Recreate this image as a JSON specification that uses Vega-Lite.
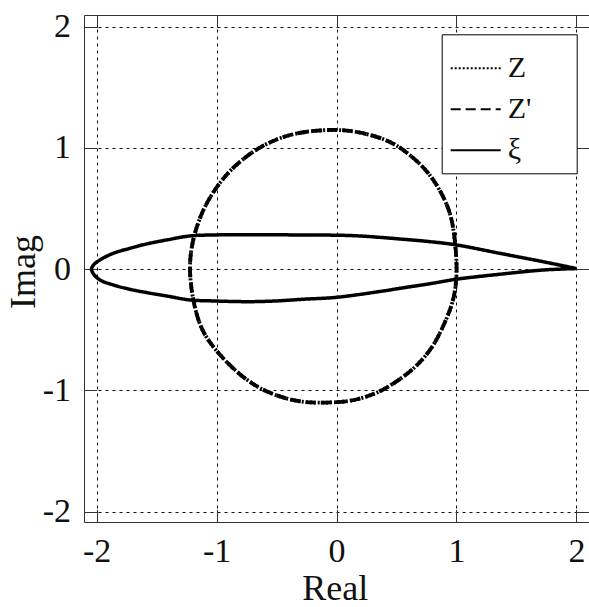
{
  "$schema": "https://vega.github.io/schema/vega-lite/v6.json",
  "width": 505,
  "height": 507,
  "autosize": {"type": "none"},
  "padding": {"left": 84, "top": 15, "right": 0, "bottom": 85},
  "background": "white",
  "config": {
    "view": {"stroke": null},
    "font": "Liberation Serif",
    "axis": {
      "domainColor": "#333",
      "domainWidth": 1,
      "tickColor": "#333",
      "tickWidth": 1,
      "tickSize": -12.6,
      "labelFont": "Liberation Serif",
      "labelFontSize": 34,
      "labelColor": "#111",
      "titleFont": "Liberation Serif",
      "titleFontSize": 36,
      "titleFontWeight": "normal",
      "titleColor": "#111",
      "labelFlush": false,
      "labelOverlap": false,
      "gridColor": "#111",
      "gridDash": [3, 4],
      "gridWidth": 1,
      "gridOpacity": 1
    }
  },
  "datasets": {
    "circle": [
      {"i": 0, "x": 1.005, "y": 0.02},
      {"i": 1, "x": 0.99, "y": 0.22},
      {"i": 2, "x": 0.965, "y": 0.406},
      {"i": 3, "x": 0.91, "y": 0.57},
      {"i": 4, "x": 0.78, "y": 0.79},
      {"i": 5, "x": 0.62, "y": 0.94},
      {"i": 6, "x": 0.444, "y": 1.065},
      {"i": 7, "x": 0.167, "y": 1.14},
      {"i": 8, "x": -0.055, "y": 1.155},
      {"i": 9, "x": -0.36, "y": 1.125},
      {"i": 10, "x": -0.583, "y": 1.04},
      {"i": 11, "x": -0.75, "y": 0.935},
      {"i": 12, "x": -0.917, "y": 0.791},
      {"i": 13, "x": -1.056, "y": 0.598},
      {"i": 14, "x": -1.139, "y": 0.433},
      {"i": 15, "x": -1.2, "y": 0.241},
      {"i": 16, "x": -1.232, "y": 0.02},
      {"i": 17, "x": -1.2, "y": -0.254},
      {"i": 18, "x": -1.139, "y": -0.474},
      {"i": 19, "x": -1.056, "y": -0.611},
      {"i": 20, "x": -0.917, "y": -0.77},
      {"i": 21, "x": -0.75, "y": -0.918},
      {"i": 22, "x": -0.583, "y": -1.015},
      {"i": 23, "x": -0.389, "y": -1.078},
      {"i": 24, "x": -0.222, "y": -1.105},
      {"i": 25, "x": 0.028, "y": -1.098},
      {"i": 26, "x": 0.167, "y": -1.078},
      {"i": 27, "x": 0.334, "y": -1.027},
      {"i": 28, "x": 0.5, "y": -0.93},
      {"i": 29, "x": 0.667, "y": -0.806},
      {"i": 30, "x": 0.806, "y": -0.641},
      {"i": 31, "x": 0.889, "y": -0.474},
      {"i": 32, "x": 0.96, "y": -0.309},
      {"i": 33, "x": 0.995, "y": -0.16}
    ],
    "airfoil": [
      {"i": 0, "x": 2.0, "y": 0.005},
      {"i": 1, "x": 1.72, "y": 0.062},
      {"i": 2, "x": 1.36, "y": 0.131},
      {"i": 3, "x": 1.0, "y": 0.2},
      {"i": 4, "x": 0.778, "y": 0.227},
      {"i": 5, "x": 0.528, "y": 0.249},
      {"i": 6, "x": 0.19, "y": 0.274},
      {"i": 7, "x": 0.0, "y": 0.28},
      {"i": 8, "x": -0.5, "y": 0.283},
      {"i": 9, "x": -1.028, "y": 0.282},
      {"i": 10, "x": -1.222, "y": 0.274},
      {"i": 11, "x": -1.416, "y": 0.241},
      {"i": 12, "x": -1.583, "y": 0.208},
      {"i": 13, "x": -1.722, "y": 0.172},
      {"i": 14, "x": -1.861, "y": 0.131},
      {"i": 15, "x": -1.972, "y": 0.076},
      {"i": 16, "x": -2.025, "y": 0.035},
      {"i": 17, "x": -2.042, "y": 0.0},
      {"i": 18, "x": -2.025, "y": -0.04},
      {"i": 19, "x": -1.972, "y": -0.089},
      {"i": 20, "x": -1.861, "y": -0.13},
      {"i": 21, "x": -1.722, "y": -0.166},
      {"i": 22, "x": -1.583, "y": -0.193},
      {"i": 23, "x": -1.416, "y": -0.221},
      {"i": 24, "x": -1.222, "y": -0.254},
      {"i": 25, "x": -1.028, "y": -0.262},
      {"i": 26, "x": -0.722, "y": -0.268},
      {"i": 27, "x": -0.5, "y": -0.262},
      {"i": 28, "x": -0.278, "y": -0.248},
      {"i": 29, "x": 0.0, "y": -0.232},
      {"i": 30, "x": 0.389, "y": -0.18},
      {"i": 31, "x": 0.528, "y": -0.158},
      {"i": 32, "x": 0.778, "y": -0.12},
      {"i": 33, "x": 1.0, "y": -0.083},
      {"i": 34, "x": 1.36, "y": -0.042},
      {"i": 35, "x": 1.72, "y": -0.007},
      {"i": 36, "x": 2.0, "y": 0.005}
    ]
  },
  "layer": [
    {
      "data": {"name": "circle"},
      "mark": {"type": "line", "interpolate": "basis-closed", "strokeWidth": 3.8, "color": "black"},
      "encoding": {
        "x": {
          "field": "x", "type": "quantitative",
          "scale": {"domain": [-2.105, 2.105], "nice": false, "zero": false},
          "axis": {
            "orient": "bottom", "values": [-2, -1, 0, 1, 2], "grid": true,
            "labelPadding": 52, "labelBaseline": "alphabetic", "labelDx": -8,
            "labelExpr": "datum.value < 0 ? '-' + abs(datum.value) : '' + datum.value",
            "title": "Real", "titleX": 250.7, "titleY": 77.7, "titleBaseline": "alphabetic", "titleAlign": "center"
          }
        },
        "y": {
          "field": "y", "type": "quantitative",
          "scale": {"domain": [-2.085, 2.096], "nice": false, "zero": false},
          "axis": {
            "orient": "left", "values": [-2, -1, 0, 1, 2], "grid": true,
            "labelPadding": 26, "labelBaseline": "middle", "labelAlign": "right", "labelDy": -3,
            "labelExpr": "datum.value < 0 ? '-' + abs(datum.value) : '' + datum.value",
            "title": "Imag", "titleX": -50, "titleY": 256.5, "titleAngle": 270,
            "titleBaseline": "alphabetic", "titleAlign": "center"
          }
        },
        "order": {"field": "i", "type": "quantitative"},
        "strokeDash": {
          "datum": "Z",
          "scale": {"domain": ["Z", "Z'", "ξ"], "range": [[2, 2], [10, 5], [1, 0]]},
          "legend": {
            "orient": "none", "legendX": 357.7, "legendY": 19.3,
            "title": " ", "titleOrient": "right", "titlePadding": 37, "titleFontSize": 30,
            "fillColor": "white", "strokeColor": "#000", "padding": 8,
            "symbolType": "stroke", "symbolSize": 2500, "symbolStrokeWidth": 2,
            "symbolStrokeColor": "black", "labelFont": "Liberation Serif",
            "labelFontSize": 30, "labelColor": "#111", "rowPadding": -9, "labelOffset": 6,
            "zindex": 1
          }
        }
      }
    },
    {
      "data": {"name": "circle"},
      "mark": {"type": "line", "interpolate": "basis-closed", "strokeWidth": 3.8, "color": "black"},
      "encoding": {
        "x": {"field": "x", "type": "quantitative", "axis": null},
        "y": {"field": "y", "type": "quantitative", "axis": null},
        "order": {"field": "i", "type": "quantitative"},
        "strokeDash": {"datum": "Z'"}
      }
    },
    {
      "data": {"name": "airfoil"},
      "mark": {"type": "line", "interpolate": "catmull-rom", "strokeWidth": 3.5, "color": "black"},
      "encoding": {
        "x": {
          "field": "x", "type": "quantitative",
          "axis": {"orient": "top", "values": [-2, -1, 0, 1, 2], "grid": false, "labels": false, "title": null}
        },
        "y": {
          "field": "y", "type": "quantitative",
          "axis": {"orient": "right", "values": [-2, -1, 0, 1, 2], "grid": false, "labels": false, "title": null}
        },
        "order": {"field": "i", "type": "quantitative"},
        "strokeDash": {"datum": "ξ"}
      }
    }
  ],
  "resolve": {"axis": {"x": "independent", "y": "independent"}}
}
